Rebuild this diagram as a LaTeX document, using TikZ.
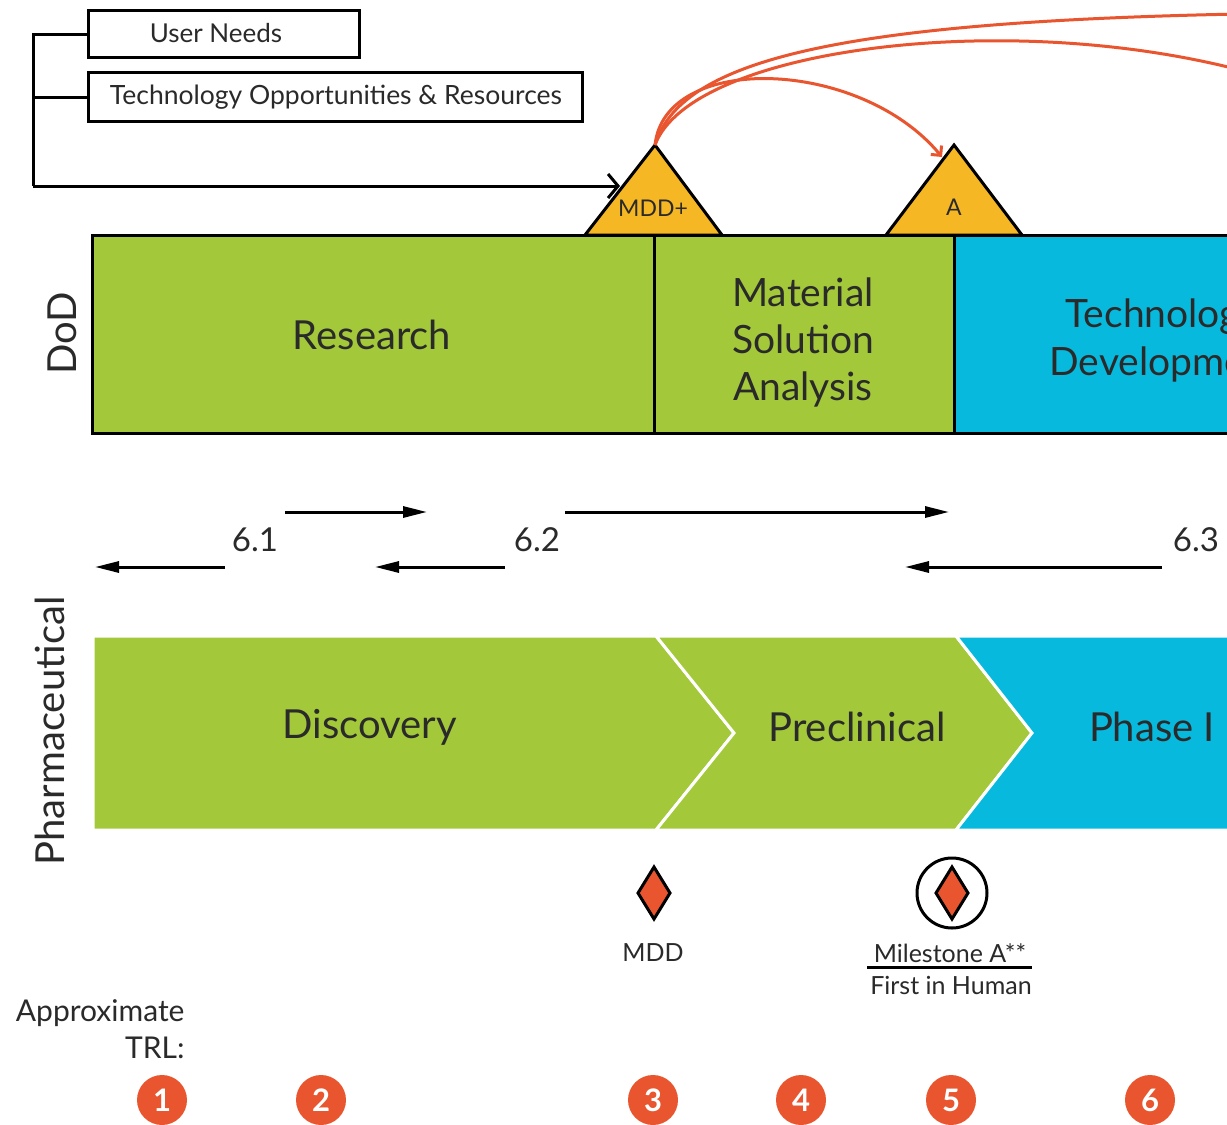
\documentclass[tikz,border=0pt]{standalone}
\usepackage{fontspec}
\setmainfont{Lato}
\usetikzlibrary{arrows.meta,shapes.geometric}
\definecolor{dgreen}{HTML}{A3C93A}
\definecolor{dblue}{HTML}{08B9DE}
\definecolor{dorange}{HTML}{F6B724}
\definecolor{dred}{HTML}{E8552F}
\definecolor{dtext}{HTML}{2A2A2A}
\tikzset{
  fs/.style={font=\fontsize{#1}{#1}\selectfont, text=dtext},
  fsl/.style={font=\fontsize{#1}{47}\selectfont, text=dtext},
  boxnode/.style={draw=black, line width=3pt, fill=white, minimum height=47pt, anchor=west, inner sep=0pt},
  blk/.style={line width=3pt, black},
  pharr/.style={line width=3pt, -{Triangle[length=24pt,width=11pt]}},
  orarr/.style={line width=3pt, dred},
  trl/.style={circle, fill=dred, minimum size=50pt, inner sep=0pt, text=white, font=\fontsize{31}{31}\selectfont\bfseries},
  dia/.style={draw=black, line width=3pt, fill=dred, line join=miter},
}
\begin{document}
\begin{tikzpicture}[x=1pt,y=-1pt]
\useasboundingbox (0,0) rectangle (1227,1125);
\clip (0,0) rectangle (1227,1125);
\fill[white] (0,0) rectangle (1227,1125);

% top boxes
\node[boxnode, minimum width=271pt] (un) at (87,34) {};
\node[fs=26] (unt) at (216,33) {User Needs};
\node[boxnode, minimum width=494pt, minimum height=49pt] (to) at (87,97) {};
\node[fs=26.5] (tot) at (336,97) {Technology Opportunities \& Resources};

% triangles
\coordinate (mddapex) at (655,145);
\coordinate (aapex) at (954,145);
\fill[dorange, draw=black, line width=3pt, line join=miter] (585,235) -- (mddapex) -- (722,235) -- cycle;
\fill[dorange, draw=black, line width=3pt, line join=miter] (886,235) -- (aapex) -- (1022,235) -- cycle;
\node[fs=23] (mddp) at (653,208) {MDD+};
\node[fs=23] (atri) at (954,207) {A};
\coordinate (mddleft) at (620,186);
\coordinate (atip) at (942,157);

% bracket
\draw[blk] (un.west) -- (33,34) -- (33,186);
\draw[blk] (to.west) -- (33,97);
\draw[blk, -{Straight Barb[length=10pt,width=24pt]}] (33,186) -- (mddleft);

% orange curves
\draw[orarr, -{Straight Barb[length=7pt,width=14pt]}] (mddapex) .. controls (665,52) and (860,58) .. (atip);
\draw[orarr] (mddapex) .. controls (680,62) and (830,22) .. (1240,14);
\draw[orarr] (mddapex) .. controls (690,50) and (1000,8) .. (1240,70);

% DoD row
\fill[dgreen] (92,235) rectangle (954,433);
\fill[dblue] (954,235) rectangle (1240,433);
\draw[blk] (1240,235) -- (92,235) -- (92,433) -- (1240,433);
\draw[blk] (654,235) -- (654,433);
\draw[blk] (954,235) -- (954,433);
\node[fs=40] (research) at (372,335) {Research};
\node[fsl=39, align=center] (msa) at (803,342) {Material\\Solution\\Analysis};
\node[fs=39, anchor=west] (td1) at (1062,317) {Technology};
\node[fs=39, anchor=west] (td2) at (1046,364) {Development};
\node[fs=40, rotate=90] (dod) at (62,333) {DoD};

% 6.x arrows
\node[fs=33] (l61) at (255,540) {6.1};
\node[fs=33] (l62) at (537,540) {6.2};
\node[fs=33] (l63) at (1196,540) {6.3};
\draw[pharr] (285,512) -- (427,512);
\draw[pharr] (225,567) -- (95,567);
\draw[pharr] (505,567) -- (375,567);
\draw[pharr] (565,512) -- (949,512);
\draw[pharr] (1162,567) -- (905,567);

% Pharmaceutical chevrons
\filldraw[fill=dgreen, draw=white, line width=3pt] (93,636) -- (656,636) -- (734,733) -- (656,830) -- (93,830) -- cycle;
\filldraw[fill=dgreen, draw=white, line width=3pt] (656,636) -- (956,636) -- (1032,733) -- (956,830) -- (656,830) -- (734,733) -- cycle;
\filldraw[fill=dblue, draw=white, line width=3pt] (956,636) -- (1240,636) -- (1240,830) -- (956,830) -- (1032,733) -- cycle;
\draw[white, line width=4pt] (93,633) -- (1240,633);
\draw[white, line width=4pt] (93,833) -- (1240,833);
\node[fs=40] (disc) at (370,727) {Discovery};
\node[fs=40] (precl) at (857,727) {Preclinical};
\node[fs=40] (ph1) at (1152,727) {Phase I};
\node[fs=40, rotate=90] (pharm) at (50,731) {Pharmaceutical};

% milestones
\coordinate (mddd) at (654,893);
\draw[dia] (654,867) -- (670,893) -- (654,919) -- (638,893) -- cycle;
\node[fs=25] (mddl) at (653,953) {MDD};
\coordinate (mad) at (952,893);
\draw[line width=3pt] (mad) circle (35);
\draw[dia] (952,867) -- (968,893) -- (952,919) -- (936,893) -- cycle;
\node[fs=25] (msa2) at (950,953) {Milestone A**};
\draw[line width=3pt] (867,967) -- (1032,967);
\node[fs=25] (fih) at (951,985) {First in Human};

% TRL
\node[fs=30, anchor=east] (appr) at (188,1013) {Approximate};
\node[fs=30, anchor=east] (trll) at (188,1048) {TRL:};
\node[trl] (t1) at (162,1100) {1};
\node[trl] (t2) at (321,1100) {2};
\node[trl] (t3) at (653,1100) {3};
\node[trl] (t4) at (801,1100) {4};
\node[trl] (t5) at (951,1100) {5};
\node[trl] (t6) at (1150,1100) {6};
\end{tikzpicture}
\end{document}
